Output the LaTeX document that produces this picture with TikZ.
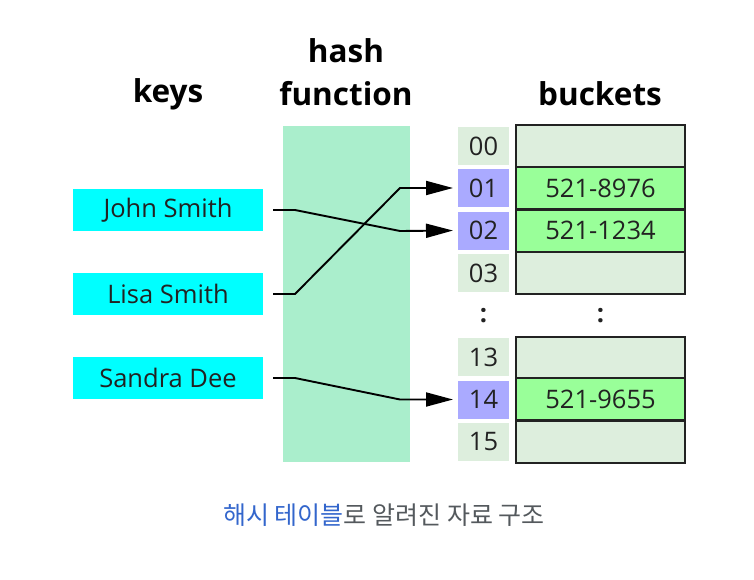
\documentclass[tikz,border=0pt]{standalone}
\usepackage{fontspec}
\setmainfont{Open Sans}
\newfontfamily\cjk{Noto Sans CJK KR}
\usetikzlibrary{arrows.meta}
\definecolor{hashgreen}{HTML}{AAEECC}
\definecolor{idxgreen}{HTML}{DDEEDD}
\definecolor{idxblue}{HTML}{AAAAFF}
\definecolor{fullgreen}{HTML}{99FF99}
\definecolor{keycyan}{HTML}{00FFFF}
\definecolor{ink}{HTML}{222222}
\definecolor{linkblue}{HTML}{3366CC}
\definecolor{capgray}{HTML}{54595D}
\tikzset{
  every node/.style={inner sep=0pt, outer sep=0pt, text=ink},
  title/.style={font=\fontsize{31.5}{36}\bfseries\selectfont, text=black},
  keybox/.style={fill=keycyan, minimum width=190pt, minimum height=42pt, font=\fontsize{25.5}{30}\selectfont},
  idx/.style={fill=idxgreen, minimum width=51pt, minimum height=38pt, font=\fontsize{25.5}{30}\selectfont},
  idxhit/.style={idx, fill=idxblue},
  bucket/.style={fill=idxgreen, draw=ink, line width=2pt, minimum width=169pt, minimum height=42pt, font=\fontsize{25.5}{30}\selectfont},
  buckethit/.style={bucket, fill=fullgreen},
  dots/.style={font=\fontsize{25.5}{30}\bfseries\selectfont},
  link/.style={draw=black, line width=1.9pt, -{Triangle[length=27pt,width=14pt]}, shorten >=5pt},
}
\begin{document}
\begin{tikzpicture}[x=1pt, y=-1pt]
\useasboundingbox (0,0) rectangle (754,580);
% titles
\node[title] (tkeys) at (168,94) {keys};
\node[title] (thash) at (346,51) {hash};
\node[title] (tfunc) at (346,94) {function};
\node[title] (tbuck) at (600,94) {buckets};
% hash function band
\fill[hashgreen] (283,126) rectangle (410,462);
% keys
\node[keybox] (john) at (168,210) {John Smith};
\node[keybox] (lisa) at (168,294) {Lisa Smith};
\node[keybox] (sandra) at (168,378) {Sandra Dee};
% index cells
\node[idx] (i00) at (483.5,146) {00};
\node[idxhit] (i01) at (483.5,188) {01};
\node[idxhit] (i02) at (483.5,230.5) {02};
\node[idx] (i03) at (483.5,273) {03};
\node[dots] (d1) at (483.5,316) {:};
\node[idx] (i13) at (483.5,357) {13};
\node[idxhit] (i14) at (483.5,399.5) {14};
\node[idx] (i15) at (483.5,442) {15};
% buckets
\node[bucket] (b00) at (600.5,146) {};
\node[buckethit] (b01) at (600.5,188) {521-8976};
\node[buckethit] (b02) at (600.5,230.5) {521-1234};
\node[bucket] (b03) at (600.5,273) {};
\node[dots] (d2) at (600.5,316) {:};
\node[bucket] (b13) at (600.5,357.5) {};
\node[buckethit] (b14) at (600.5,399) {521-9655};
\node[bucket] (b15) at (600.5,441.5) {};
% connectors
\draw[link] ([xshift=10pt]john.east) -- ++(22,0) -- (400,231) -- (i02.west);
\draw[link] ([xshift=10pt]lisa.east) -- ++(22,0) -- (400,188) -- (i01.west);
\draw[link] ([xshift=10pt]sandra.east) -- ++(22,0) -- (400,399.5) -- (i14.west);
% caption
\node (cap) at (384,515) {\cjk\fontsize{25}{30}\selectfont\textcolor{linkblue}{해시 테이블}\textcolor{capgray}{로 알려진 자료 구조}};
\end{tikzpicture}
\end{document}
